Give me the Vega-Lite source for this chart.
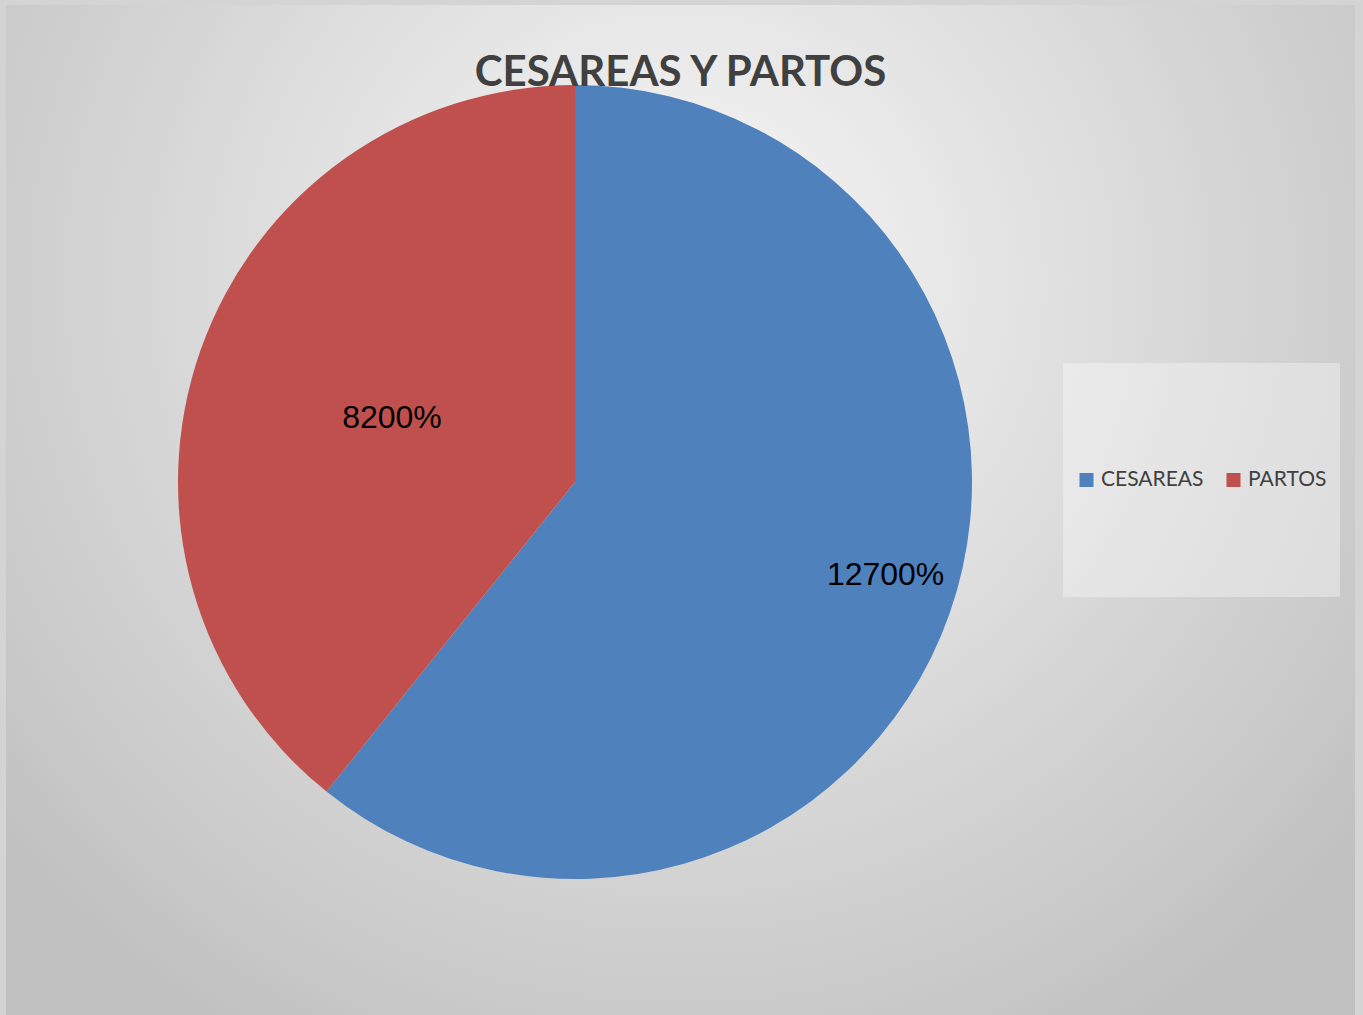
{
  "$schema": "https://vega.github.io/schema/vega-lite/v6.json",
  "width": 1349,
  "height": 1010,
  "autosize": {"type": "none"},
  "padding": {"left": 6, "top": 5, "right": 8, "bottom": 0},
  "background": "#d4d4d4",
  "config": {"view": {"stroke": null}},
  "title": {
    "text": "CESAREAS Y PARTOS",
    "orient": "top",
    "anchor": "middle",
    "font": "Lato",
    "fontWeight": "bold",
    "fontSize": 42,
    "color": "#404040",
    "baseline": "alphabetic",
    "offset": -123
  },
  "datasets": {
    "pie": [
      {"category": "CESAREAS", "value": 127},
      {"category": "PARTOS", "value": 82}
    ]
  },
  "layer": [
    {
      "data": {"values": [{}]},
      "mark": {
        "type": "rect",
        "color": {
          "gradient": "radial",
          "x1": 0.4996, "y1": 0.33, "r1": 0,
          "x2": 0.4996, "y2": 0.33, "r2": 0.66,
          "stops": [
            {"offset": 0, "color": "#f8f8f8"},
            {"offset": 1, "color": "#c0c0c0"}
          ]
        }
      },
      "encoding": {}
    },
    {
      "data": {"name": "pie"},
      "mark": {
        "type": "arc",
        "outerRadius": 397,
        "x": {"expr": "width * 0.4218"},
        "y": {"expr": "height * 0.4723"}
      },
      "encoding": {
        "theta": {"field": "value", "type": "quantitative", "stack": true},
        "order": {"field": "category", "sort": "ascending"},
        "color": {
          "field": "category",
          "type": "nominal",
          "scale": {"domain": ["CESAREAS", "PARTOS"], "range": ["#4f81bd", "#c0504d"]},
          "legend": {
            "title": null,
            "orient": "none",
            "legendX": 1057,
            "legendY": 358,
            "direction": "horizontal",
            "symbolType": "square",
            "symbolSize": 196,
            "symbolStrokeWidth": 0,
            "labelFont": "Lato",
            "labelFontSize": 21,
            "labelColor": "#404040",
            "labelOffset": 4,
            "columnPadding": 19,
            "padding": 13,
            "clipHeight": 208,
            "fillColor": "rgba(255,255,255,0.35)"
          }
        }
      }
    },
    {
      "data": {"name": "pie"},
      "mark": {
        "type": "text",
        "radius": 325,
        "x": {"expr": "width * 0.4218"},
        "y": {"expr": "height * 0.4723"},
        "dx": 4,
        "dy": -15,
        "font": "Liberation Sans",
        "fontSize": 32,
        "color": "#000000",
        "align": "center",
        "baseline": "middle"
      },
      "encoding": {
        "theta": {"field": "value", "type": "quantitative", "stack": true},
        "order": {"field": "category", "sort": "ascending"},
        "detail": {"field": "category", "type": "nominal"},
        "text": {
          "condition": {"test": "datum.category === 'CESAREAS'", "field": "value", "type": "quantitative", "format": ".0%"},
          "value": ""
        }
      }
    },
    {
      "data": {"name": "pie"},
      "mark": {
        "type": "text",
        "radius": 194,
        "x": {"expr": "width * 0.4218"},
        "y": {"expr": "height * 0.4723"},
        "font": "Liberation Sans",
        "fontSize": 32,
        "color": "#000000",
        "align": "center",
        "baseline": "middle"
      },
      "encoding": {
        "theta": {"field": "value", "type": "quantitative", "stack": true},
        "order": {"field": "category", "sort": "ascending"},
        "detail": {"field": "category", "type": "nominal"},
        "text": {
          "condition": {"test": "datum.category === 'PARTOS'", "field": "value", "type": "quantitative", "format": ".0%"},
          "value": ""
        }
      }
    }
  ]
}
